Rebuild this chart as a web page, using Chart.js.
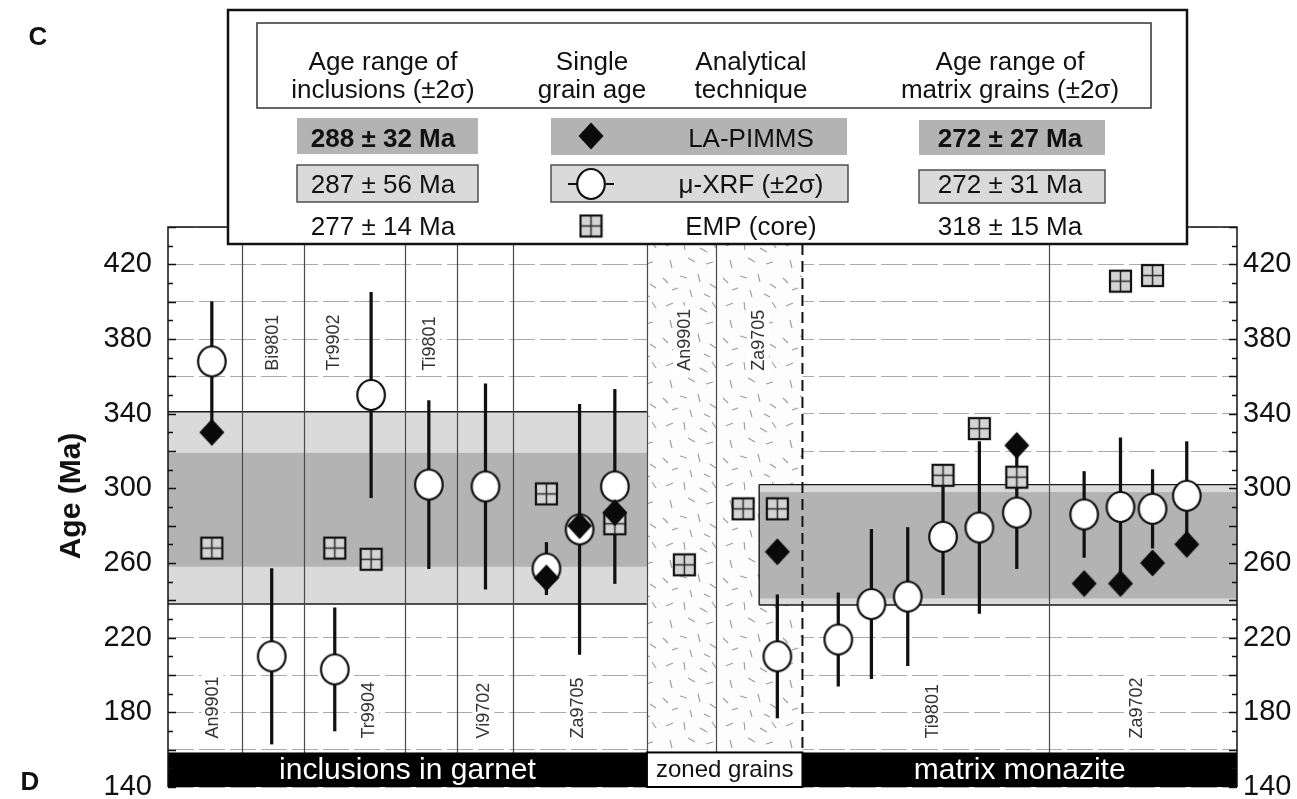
<!DOCTYPE html>
<html>
<head>
<meta charset="utf-8">
<title>Monazite ages</title>
<script src="https://cdn.jsdelivr.net/npm/chart.js@4.4.1/dist/chart.umd.min.js"></script>
<style>
    html, body { margin: 0; padding: 0; background: #fff; }
    #wrap { width: 1297px; height: 799px; position: relative; }
</style>
</head>
<body>
<div id="wrap"><canvas id="ageChart" width="1297" height="799"></canvas></div>
<script>
// x = position along the sample strip, 0 = left axis, 100 = right axis

// mu-XRF single grain ages (Ma) with 2 sigma
const xrfPos = [4.1, 9.7, 15.6, 19.0, 24.4, 29.7, 35.4, 38.5, 41.8, 57.0, 62.7, 65.8, 69.2, 72.5, 75.9, 79.4, 85.7, 89.1, 92.1, 95.3];
const xrfAge = [368, 210, 203, 350, 302, 301, 257, 278, 301, 210, 219, 238, 242, 274, 279, 287, 286, 290, 289, 296];
const xrfErr = [32, 47, 33, 55, 45, 55, 14, 67, 52, 33, 25, 40, 37, 31, 46, 30, 23, 37, 21, 29];

// LA-PIMMS ages
const pimmsPos = [4.1, 35.4, 38.5, 41.8, 57.0, 79.4, 85.7, 89.1, 92.1, 95.3];
const pimmsAge = [330, 252, 280, 287, 266, 323, 249, 249, 260, 270];

// EMP core ages
const empPos = [4.1, 15.6, 19.0, 35.4, 41.8, 48.3, 53.8, 57.0, 72.5, 75.9, 79.4, 89.1, 92.1];
const empAge = [268, 268, 262, 297, 281, 259, 289, 289, 307, 332, 306, 411, 414];

// age range bands: inclusions, matrix
const bandFrom = [0, 55.3];
const bandTo = [44.8, 100];
const bandOuter = [[238, 341], [237.5, 302]];
const bandInner = [[258, 319], [241, 298]];

// sample columns
const sampleDividers = [6.9, 12.7, 22.2, 27.0, 32.3, 44.8, 51.3, 82.4];
const matrixStart = 59.35;
const topNames = ['Bi9801', 'Tr9902', 'Ti9801', 'An9901', 'Za9705'];
const topPos = [9.7, 15.4, 24.4, 48.3, 55.2];
const bottomNames = ['An9901', 'Tr9904', 'Vi9702', 'Za9705', 'Ti9801', 'Za9702'];
const bottomPos = [4.15, 18.7, 29.5, 38.3, 71.5, 90.6];
const topLabelAge = 363;
const bottomLabelAge = 166;

// sections along the bottom
const sectionNames = ['inclusions in garnet', 'zoned grains', 'matrix monazite'];
const sectionFrom = [0, 44.8, matrixStart];
const sectionTo = [44.8, matrixStart, 100];
const sectionTopAge = 158.5;

// axis
const ageMin = 140;
const ageMax = 440;
const ageLabels = [140, 180, 220, 260, 300, 340, 380, 420];

// legend text
const legendHeads = [['Age range of', 'inclusions (±2σ)'], ['Single', 'grain age'], ['Analytical', 'technique'], ['Age range of', 'matrix grains (±2σ)']];
const inclusionRanges = ['288 ± 32 Ma', '287 ± 56 Ma', '277 ± 14 Ma'];
const techniqueNames = ['LA-PIMMS', 'μ-XRF (±2σ)', 'EMP (core)'];
const matrixRanges = ['272 ± 27 Ma', '272 ± 31 Ma', '318 ± 15 Ma'];

const FONT = '"Liberation Sans", Arial, Helvetica, sans-serif';
const LIGHT = '#dadada';
const DARK = '#b3b3b3';

// marker images
function makeEllipse() {
    const c = document.createElement('canvas');
    c.width = 32; c.height = 34;
    const g = c.getContext('2d');
    g.beginPath();
    g.ellipse(16, 17, 13.8, 15, 0, 0, Math.PI * 2);
    g.fillStyle = '#fff';
    g.fill();
    g.lineWidth = 2.2;
    g.strokeStyle = '#111';
    g.stroke();
    return c;
}

function makeDiamond() {
    const c = document.createElement('canvas');
    c.width = 28; c.height = 30;
    const g = c.getContext('2d');
    g.beginPath();
    g.moveTo(14, 1.5);
    g.lineTo(26.5, 15);
    g.lineTo(14, 28.5);
    g.lineTo(1.5, 15);
    g.closePath();
    g.fillStyle = '#0a0a0a';
    g.fill();
    return c;
}

function makeSquare() {
    const c = document.createElement('canvas');
    c.width = 25; c.height = 25;
    const g = c.getContext('2d');
    g.fillStyle = '#d4d4d4';
    g.fillRect(2, 2, 21, 21);
    g.strokeStyle = '#2a2a2a';
    g.lineWidth = 1.5;
    g.beginPath();
    g.moveTo(12.5, 2); g.lineTo(12.5, 23);
    g.moveTo(2, 12.5); g.lineTo(23, 12.5);
    g.stroke();
    g.strokeStyle = '#111';
    g.lineWidth = 2.2;
    g.strokeRect(2, 2, 21, 21);
    return c;
}

function makeZonedTexture() {
    const c = document.createElement('canvas');
    c.width = 60; c.height = 60;
    const g = c.getContext('2d');
    g.fillStyle = '#fdfdfd';
    g.fillRect(0, 0, 60, 60);
    g.strokeStyle = '#9c9c9c';
    g.lineWidth = 1.1;
    const strokes = [[6, 6, 13, 3], [24, 2, 25, 10], [40, 8, 47, 12], [52, 2, 56, 8], [10, 20, 12, 28],
        [28, 18, 35, 22], [46, 24, 53, 22], [3, 38, 8, 43], [20, 36, 27, 38], [38, 34, 40, 42],
        [50, 44, 56, 48], [12, 50, 18, 48], [30, 50, 32, 57], [44, 54, 50, 57]];
    g.beginPath();
    strokes.forEach(s => { g.moveTo(s[0], s[1]); g.lineTo(s[2], s[3]); });
    g.stroke();
    return c;
}

const ellipseMark = makeEllipse();
const diamondMark = makeDiamond();
const squareMark = makeSquare();
const zonedTile = makeZonedTexture();

// background pieces: texture, bands, columns, sample names, section bars
const backdropPlugin = {
    id: 'backdrop',
    beforeDatasetsDraw(chart) {
        const ctx = chart.ctx;
        const area = chart.chartArea;
        const px = v => chart.scales.x.getPixelForValue(v);
        const py = v => chart.scales.y.getPixelForValue(v);
        ctx.save();

        // zoned grains texture
        ctx.fillStyle = ctx.createPattern(zonedTile, 'repeat');
        ctx.fillRect(px(sectionFrom[1]), area.top, px(sectionTo[1]) - px(sectionFrom[1]), py(sectionTopAge) - area.top);

        // age bands
        bandFrom.forEach((x0, i) => {
            const l = px(x0), r = px(bandTo[i]);
            ctx.fillStyle = LIGHT;
            ctx.fillRect(l, py(bandOuter[i][1]), r - l, py(bandOuter[i][0]) - py(bandOuter[i][1]));
            ctx.fillStyle = DARK;
            ctx.fillRect(l, py(bandInner[i][1]), r - l, py(bandInner[i][0]) - py(bandInner[i][1]));
            ctx.strokeStyle = '#1a1a1a';
            ctx.lineWidth = 1.4;
            ctx.beginPath();
            ctx.moveTo(l, py(bandOuter[i][1])); ctx.lineTo(r, py(bandOuter[i][1]));
            ctx.moveTo(l, py(bandOuter[i][0])); ctx.lineTo(r, py(bandOuter[i][0]));
            if (i === 1) {
                ctx.moveTo(l, py(bandOuter[i][1])); ctx.lineTo(l, py(bandOuter[i][0]));
            }
            ctx.stroke();
        });

        // sample dividers
        ctx.strokeStyle = '#4a4a4a';
        ctx.lineWidth = 1.2;
        ctx.beginPath();
        sampleDividers.forEach(v => {
            ctx.moveTo(Math.round(px(v)) + 0.5, area.top);
            ctx.lineTo(Math.round(px(v)) + 0.5, area.bottom);
        });
        ctx.stroke();
        ctx.strokeStyle = '#111';
        ctx.lineWidth = 2;
        ctx.setLineDash([11, 6]);
        ctx.beginPath();
        ctx.moveTo(px(matrixStart), area.top);
        ctx.lineTo(px(matrixStart), area.bottom);
        ctx.stroke();
        ctx.setLineDash([]);

        // sample names
        ctx.font = '18px ' + FONT;
        ctx.textAlign = 'left';
        ctx.textBaseline = 'middle';
        const drawName = (name, x, age) => {
            ctx.save();
            ctx.translate(px(x), py(age));
            ctx.rotate(-Math.PI / 2);
            const w = ctx.measureText(name).width;
            ctx.fillStyle = '#fff';
            ctx.fillRect(-3, -11, w + 6, 22);
            ctx.fillStyle = '#333';
            ctx.fillText(name, 0, 1);
            ctx.restore();
        };
        topNames.forEach((n, i) => drawName(n, topPos[i], topLabelAge));
        bottomNames.forEach((n, i) => drawName(n, bottomPos[i], bottomLabelAge));

        // section bars
        const yTop = py(sectionTopAge);
        sectionNames.forEach((name, i) => {
            const l = px(sectionFrom[i]), r = px(sectionTo[i]);
            const zoned = i === 1;
            ctx.fillStyle = zoned ? '#fff' : '#000';
            ctx.fillRect(l, yTop, r - l, area.bottom - yTop);
            if (zoned) {
                ctx.strokeStyle = '#000';
                ctx.lineWidth = 2;
                ctx.strokeRect(l, yTop, r - l, area.bottom - yTop);
            }
            ctx.fillStyle = zoned ? '#111' : '#fff';
            ctx.font = (zoned ? '24px ' : '30px ') + FONT;
            ctx.textAlign = 'center';
            ctx.textBaseline = 'middle';
            ctx.fillText(name, (l + r) / 2, (yTop + area.bottom) / 2 + 1);
        });
        ctx.restore();
    }
};

// frame, inward ticks, legend box and letters
const framePlugin = {
    id: 'frame',
    afterDatasetsDraw(chart) {
        const ctx = chart.ctx;
        const a = chart.chartArea;
        const py = v => chart.scales.y.getPixelForValue(v);
        ctx.save();
        ctx.strokeStyle = '#111';
        ctx.lineWidth = 1.5;
        ctx.beginPath();
        ctx.moveTo(a.left, a.bottom); ctx.lineTo(a.left, a.top); ctx.lineTo(a.right, a.top); ctx.lineTo(a.right, a.bottom);
        for (let v = ageMin; v <= ageMax; v += 10) {
            const len = v % 20 === 0 ? 8 : 5;
            const y = Math.round(py(v)) + 0.5;
            ctx.moveTo(a.left, y); ctx.lineTo(a.left + len, y);
            ctx.moveTo(a.right, y); ctx.lineTo(a.right - len, y);
        }
        ctx.stroke();
        ctx.restore();
    },
    afterDraw(chart) {
        const ctx = chart.ctx;
        ctx.save();

        // letters and axis title
        ctx.fillStyle = '#111';
        ctx.font = 'bold 26px ' + FONT;
        ctx.textAlign = 'center';
        ctx.textBaseline = 'middle';
        ctx.fillText('C', 38, 38);
        ctx.fillText('D', 30, 783);
        ctx.save();
        ctx.translate(80, 496);
        ctx.rotate(-Math.PI / 2);
        ctx.font = 'bold 30px ' + FONT;
        ctx.textBaseline = 'alphabetic';
        ctx.fillText('Age (Ma)', 0, 0);
        ctx.restore();

        // legend box
        ctx.fillStyle = '#fff';
        ctx.fillRect(228, 10, 959, 234);
        ctx.strokeStyle = '#111';
        ctx.lineWidth = 2.5;
        ctx.strokeRect(228, 10, 959, 234);
        ctx.lineWidth = 1.5;
        ctx.strokeStyle = '#333';
        ctx.strokeRect(257, 23, 894, 85);

        const colX = [383, 592, 751, 1010];
        ctx.fillStyle = '#111';
        ctx.font = '26px ' + FONT;
        ctx.textAlign = 'center';
        ctx.textBaseline = 'alphabetic';
        legendHeads.forEach((lines, i) => {
            ctx.fillText(lines[0], colX[i], 70);
            ctx.fillText(lines[1], colX[i], 98);
        });

        // row shading
        ctx.fillStyle = DARK;
        ctx.fillRect(297, 118, 181, 36);
        ctx.fillRect(551, 118, 296, 37);
        ctx.fillRect(919, 120, 186, 35);
        ctx.fillStyle = LIGHT;
        ctx.strokeStyle = '#444';
        ctx.lineWidth = 1.4;
        [[297, 165, 181, 37], [551, 165, 297, 37], [919, 170, 186, 33]].forEach(r => {
            ctx.fillRect(r[0], r[1], r[2], r[3]);
            ctx.strokeRect(r[0], r[1], r[2], r[3]);
        });

        const rowY = [147, 193, 235];
        ctx.fillStyle = '#111';
        rowY.forEach((y, i) => {
            ctx.font = (i === 0 ? 'bold 26px ' : '26px ') + FONT;
            ctx.fillText(inclusionRanges[i], colX[0], y);
            ctx.fillText(matrixRanges[i], colX[3], y);
            ctx.font = '26px ' + FONT;
            ctx.fillText(techniqueNames[i], colX[2], y);
        });

        // legend markers
        ctx.drawImage(diamondMark, 591 - 14, 136 - 15);
        ctx.strokeStyle = '#111';
        ctx.lineWidth = 1.8;
        ctx.beginPath();
        ctx.moveTo(568, 184); ctx.lineTo(614, 184);
        ctx.stroke();
        ctx.drawImage(ellipseMark, 591 - 16, 184 - 17);
        ctx.drawImage(squareMark, 591 - 12.5, 226 - 12.5);
        ctx.restore();
    }
};

const tickLabel = v => ageLabels.includes(v) ? String(v) : '';

// keep the label overhang from shrinking the plot area
const noLabelPadding = scale => {
    scale.paddingTop = 0;
    scale.paddingBottom = 0;
};

const chart = new Chart(document.getElementById('ageChart'), {
    type: 'scatter',
    data: {
        datasets: [
            {
                type: 'bar',
                label: 'μ-XRF (±2σ) range',
                data: xrfPos.map((x, i) => ({ x: x, y: [xrfAge[i] - xrfErr[i], xrfAge[i] + xrfErr[i]] })),
                backgroundColor: '#111',
                barThickness: 2.6,
                grouped: false,
                order: 4
            },
            {
                label: 'EMP (core)',
                data: empPos.map((x, i) => ({ x: x, y: empAge[i] })),
                pointStyle: squareMark,
                pointRadius: 11,
                order: 3
            },
            {
                label: 'μ-XRF',
                data: xrfPos.map((x, i) => ({ x: x, y: xrfAge[i] })),
                pointStyle: ellipseMark,
                pointRadius: 14,
                order: 2
            },
            {
                label: 'LA-PIMMS',
                data: pimmsPos.map((x, i) => ({ x: x, y: pimmsAge[i] })),
                pointStyle: diamondMark,
                pointRadius: 13,
                order: 1
            }
        ]
    },
    options: {
        responsive: false,
        animation: false,
        devicePixelRatio: 1,
        layout: { autoPadding: false, padding: { top: 227, bottom: 12, left: 0, right: 0 } },
        plugins: {
            legend: { display: false },
            tooltip: { enabled: false }
        },
        scales: {
            x: {
                type: 'linear',
                min: 0,
                max: 100,
                offset: false,
                display: false
            },
            y: {
                type: 'linear',
                position: 'left',
                min: ageMin,
                max: ageMax,
                afterFit(scale) { scale.width = 168; noLabelPadding(scale); },
                ticks: {
                    stepSize: 20,
                    autoSkip: false,
                    padding: 16,
                    color: '#111',
                    font: { family: FONT, size: 29 },
                    callback: tickLabel
                },
                grid: { color: '#ababab', lineWidth: 1, drawTicks: false, borderDash: [26, 5] },
                border: { display: false, dash: [26, 5] }
            },
            y2: {
                type: 'linear',
                position: 'right',
                min: ageMin,
                max: ageMax,
                afterFit(scale) { scale.width = 60; noLabelPadding(scale); },
                ticks: {
                    stepSize: 20,
                    autoSkip: false,
                    padding: 6,
                    color: '#111',
                    font: { family: FONT, size: 29 },
                    callback: tickLabel
                },
                grid: { drawOnChartArea: false, drawTicks: false },
                border: { display: false }
            }
        }
    },
    plugins: [backdropPlugin, framePlugin]
});
</script>
</body>
</html>
